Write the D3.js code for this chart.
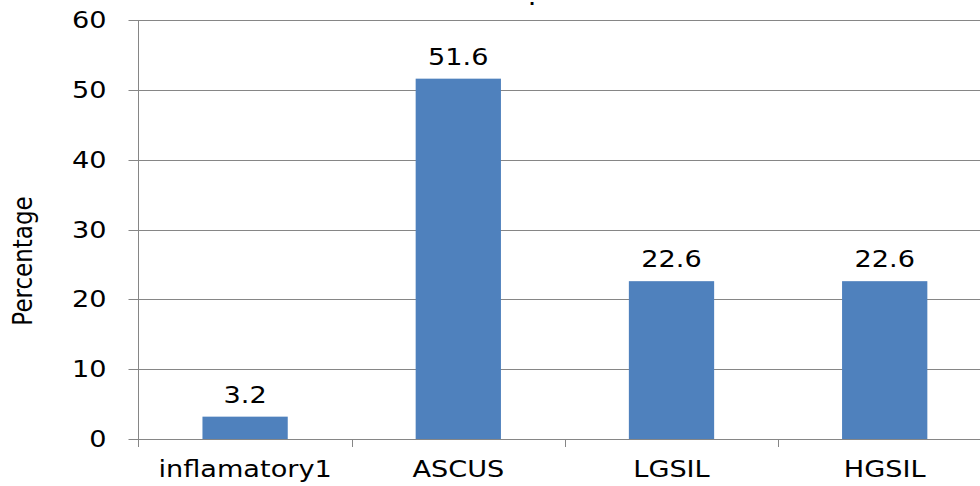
<!DOCTYPE html>
<html>
<head>
<meta charset="utf-8">
<script src="https://cdn.jsdelivr.net/npm/d3@7"></script>
<style>
  body { margin: 0; background: #fff; }
  svg { display: block; }
  text { font-family: "DejaVu Sans", sans-serif; fill: #000; }
</style>
</head>
<body>
<svg width="980" height="486"></svg>
<script>
var categories = ["inflamatory1", "ASCUS", "LGSIL", "HGSIL"];
var values = [3.2, 51.6, 22.6, 22.6];
var yTicks = [0, 10, 20, 30, 40, 50, 60];

var LEFT = 138.5;
var TOP = 20;
var BOTTOM = 439;
var PLOT_W = 852.8;   // runs past the right edge, as in the picture
var STRETCH = 1.18;   // text in the picture is drawn a bit wide
var GRID = "#868686";

var svg = d3.select("svg");

var x = d3.scaleBand()
  .domain(categories)
  .range([LEFT, LEFT + PLOT_W])
  .paddingInner(0.6)
  .paddingOuter(0.3);

var y = d3.scaleLinear()
  .domain([0, 60])
  .range([BOTTOM, TOP]);

//horizontal gridlines
svg.selectAll("line.grid")
  .data(yTicks)
  .enter()
  .append("line")
  .attr("class", "grid")
  .attr("x1", LEFT - 10)
  .attr("x2", LEFT + PLOT_W)
  .attr("y1", function(d){ return Math.round(y(d)) + 0.5; })
  .attr("y2", function(d){ return Math.round(y(d)) + 0.5; })
  .style("stroke", GRID)
  .style("stroke-width", "1px");

//y axis line
svg.append("line")
  .attr("x1", LEFT)
  .attr("x2", LEFT)
  .attr("y1", TOP)
  .attr("y2", BOTTOM + 8)
  .style("stroke", GRID)
  .style("stroke-width", "1px");

//category separator ticks
var step = x.step();
svg.selectAll("line.xtick")
  .data(categories.slice(1))
  .enter()
  .append("line")
  .attr("class", "xtick")
  .attr("x1", function(d){ return Math.round(x(d) - step * x.paddingInner() / 2) + 0.5; })
  .attr("x2", function(d){ return Math.round(x(d) - step * x.paddingInner() / 2) + 0.5; })
  .attr("y1", BOTTOM)
  .attr("y2", BOTTOM + 8)
  .style("stroke", GRID)
  .style("stroke-width", "1px");

//bars
svg.selectAll("rect.bar")
  .data(values)
  .enter()
  .append("rect")
  .attr("class", "bar")
  .attr("x", function(d, i){ return x(categories[i]); })
  .attr("width", x.bandwidth())
  .attr("y", function(d){ return y(d); })
  .attr("height", function(d){ return y(0) - y(d); })
  .style("fill", "#4F81BD");

function wideText(px, py, str, size, rotate) {
  return svg.append("text")
    .attr("transform", "translate(" + px + "," + py + ") scale(" + STRETCH + ",1)" + (rotate ? " rotate(" + rotate + ")" : ""))
    .style("font-size", size + "px")
    .text(str);
}

//value labels
values.forEach(function(d, i){
  wideText(x(categories[i]) + x.bandwidth() / 2, y(d) - 14, d.toFixed(1), 23)
    .attr("text-anchor", "middle");
});

//y tick labels
yTicks.forEach(function(d){
  wideText(LEFT - 32, y(d) + 8, d, 23)
    .attr("text-anchor", "end");
});

//category labels
categories.forEach(function(c){
  wideText(x(c) + x.bandwidth() / 2, 477, c, 23)
    .attr("text-anchor", "middle");
});

//axis title
wideText(32, 261, "Percentage", 23, -90)
  .attr("text-anchor", "middle");

//what is left of the chart title above the frame
svg.append("text")
  .attr("x", 532)
  .attr("y", 4.5)
  .attr("text-anchor", "middle")
  .style("font-size", "16px")
  .style("font-weight", "bold")
  .text(".");
</script>
</body>
</html>
